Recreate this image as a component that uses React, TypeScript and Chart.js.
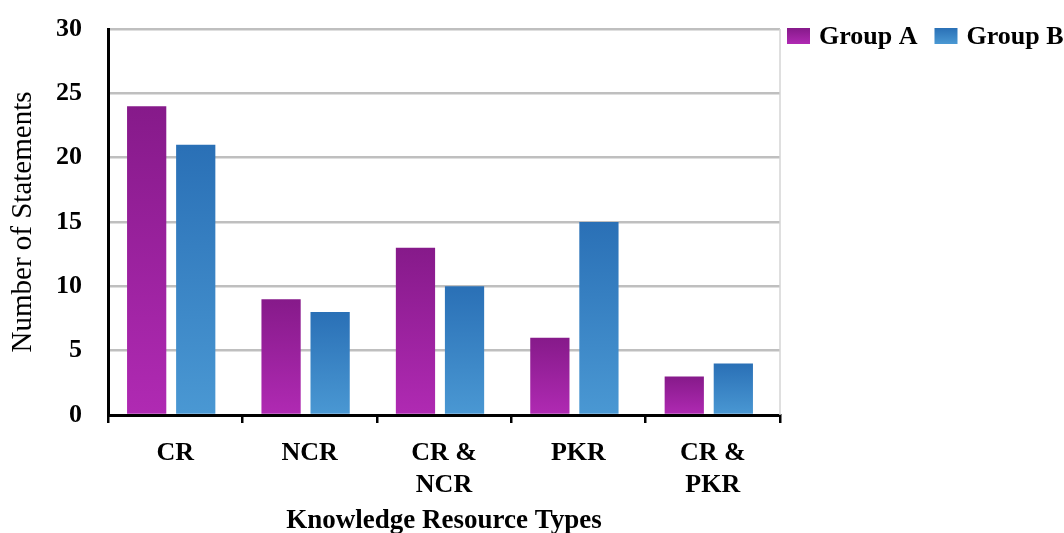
import React, { useEffect, useRef } from "react";
import { Chart, registerables } from "chart.js";

Chart.register(...registerables);

const categories: (string | string[])[] = ["CR", "NCR", ["CR &", "NCR"], "PKR", ["CR &", "PKR"]];
const groupA = [24, 9, 13, 6, 3];
const groupB = [21, 8, 10, 15, 4];
const seriesLabels = ["Group A", "Group B"];
const yTicks = { min: 0, max: 30, step: 5 };

const FONT = '"Liberation Serif", "Times New Roman", serif';
const gradA = ["#861A8A", "#B02AB3"];
const gradB = ["#2A70B6", "#4A98D3"];

function barGradient(stops: string[]) {
  return (ctx: any) => {
    const chart = ctx.chart;
    if (!chart.chartArea || ctx.type !== "data" || !chart.scales.y) return stops[1];
    const ys = chart.scales.y;
    const top = ys.getPixelForValue(ctx.raw);
    const bottom = ys.getPixelForValue(0);
    const g = chart.ctx.createLinearGradient(0, top, 0, bottom);
    g.addColorStop(0, stops[0]);
    g.addColorStop(1, stops[1]);
    return g;
  };
}

const barShift = {
  id: "barShift",
  beforeDatasetsDraw(chart: any) {
    chart.ctx.save();
    chart.ctx.translate(-4, 0);
  },
  afterDatasetsDraw(chart: any) {
    chart.ctx.restore();
  },
};

const customLegend = {
  id: "customLegend",
  afterDraw(chart: any) {
    const { ctx, chartArea } = chart;
    ctx.save();
    ctx.strokeStyle = "#D4D4D4";
    ctx.lineWidth = 1.5;
    ctx.beginPath();
    ctx.moveTo(chartArea.right, chartArea.top);
    ctx.lineTo(chartArea.right, chartArea.bottom);
    ctx.stroke();

    ctx.font = `bold 26px ${FONT}`;
    ctx.textBaseline = "middle";
    ctx.textAlign = "left";
    let x = chartArea.right + 7;
    const cy = 36;
    const grads = [gradA, gradB];
    chart.data.datasets.forEach((ds: any, i: number) => {
      const g = ctx.createLinearGradient(0, cy - 8, 0, cy + 8);
      g.addColorStop(0, grads[i][0]);
      g.addColorStop(1, grads[i][1]);
      ctx.fillStyle = g;
      ctx.fillRect(x, cy - 8, 23, 16);
      ctx.fillStyle = "#000";
      ctx.fillText(ds.label, x + 32, cy + 1);
      x += 32 + ctx.measureText(ds.label).width + 17;
    });
    ctx.restore();
  },
};

export default function App() {
  const ref = useRef<HTMLCanvasElement>(null);
  useEffect(() => {
    if (!ref.current) return;
    const chart = new Chart(ref.current, {
      type: "bar",
      data: {
        labels: categories,
        datasets: [
          { label: seriesLabels[0], data: groupA, backgroundColor: barGradient(gradA) },
          { label: seriesLabels[1], data: groupB, backgroundColor: barGradient(gradB) },
        ],
      },
      plugins: [barShift, customLegend],
      options: {
        animation: false,
        responsive: true,
        maintainAspectRatio: false,
        categoryPercentage: 0.73,
        barPercentage: 0.8,
        layout: { padding: { top: 29, right: 284, left: 0, bottom: 0 } },
        plugins: { legend: { display: false }, tooltip: { enabled: false } },
        scales: {
          x: {
            offset: true,
            afterFit: (s: any) => {
              s.height = 118;
            },
            border: { display: true, color: "#000", width: 3 },
            grid: {
              display: true,
              offset: true,
              drawOnChartArea: false,
              drawTicks: true,
              tickLength: 8,
              color: "#000",
              lineWidth: 2.5,
            },
            ticks: {
              color: "#000",
              padding: 14,
              maxRotation: 0,
              autoSkip: false,
              font: { family: FONT, size: 26, weight: "bold", lineHeight: 1.25 },
            },
            title: {
              display: true,
              text: "Knowledge Resource Types",
              color: "#000",
              font: { family: FONT, size: 27, weight: "bold", lineHeight: 1.2 },
              padding: { top: 0, bottom: -4 },
            },
          },
          y: {
            min: yTicks.min,
            max: yTicks.max,
            afterFit: (s: any) => {
              s.width = 108;
              s.paddingTop = 0;
              s.paddingBottom = 0;
            },
            border: { display: true, color: "#000", width: 3 },
            grid: { color: "#BFBFBF", lineWidth: 2.5, drawTicks: false },
            ticks: {
              stepSize: yTicks.step,
              color: "#000",
              padding: 26,
              font: { family: FONT, size: 26, weight: "bold" },
            },
            title: {
              display: true,
              text: "Number of Statements",
              color: "#000",
              font: { family: FONT, size: 29, weight: "normal", lineHeight: 1.2 },
              padding: { top: 6, bottom: 0 },
            },
          },
        },
      } as any,
    });
    return () => chart.destroy();
  }, []);
  return (
    <div style={{ position: "fixed", left: 0, top: 0, width: 1064, height: 533, background: "#fff" }}>
      <canvas ref={ref} />
    </div>
  );
}
